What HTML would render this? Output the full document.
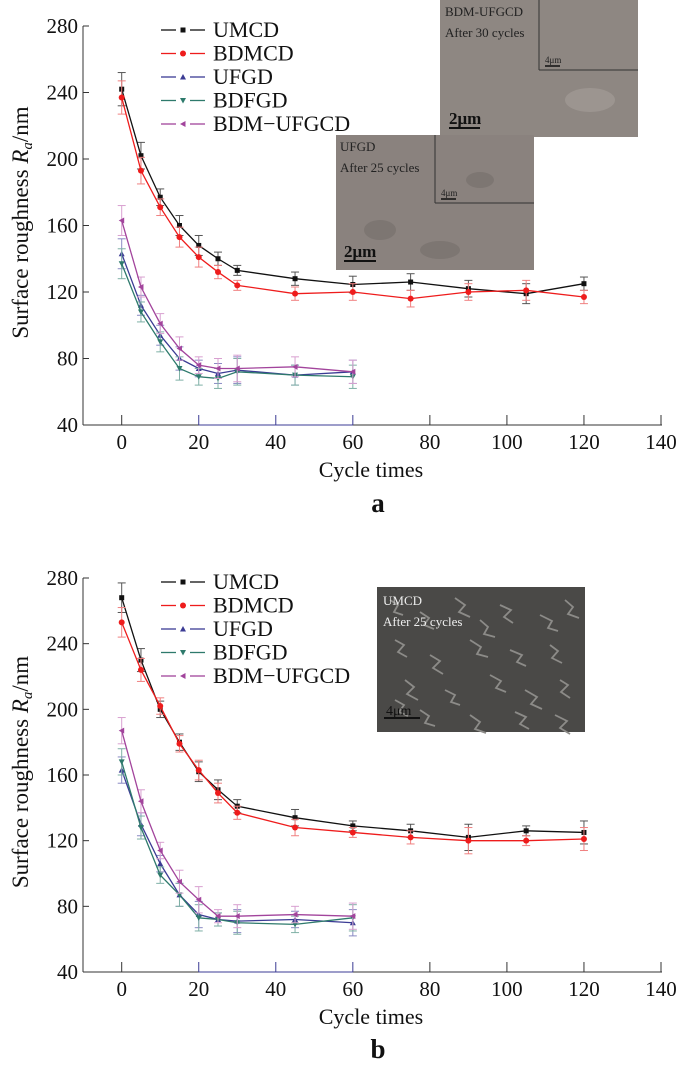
<!DOCTYPE html>
<html><head><meta charset="utf-8"><style>
html,body{margin:0;padding:0;background:#fff;}
svg{display:block;font-family:"Liberation Serif",serif;}
</style></head><body>
<svg id="fig" width="685" height="1069" viewBox="0 0 685 1069"></svg>
<script>
const xCats = [0,5,10,15,20,25,30,45,60,75,90,105,120];
const xTicks = [0,20,40,60,80,100,120,140];
const yTicks = [40,80,120,160,200,240,280];
const seriesNames = ["UMCD","BDMCD","UFGD","BDFGD","BDM\u2212UFGCD"];
// chart a
const aUMCD  = [242,202,177,160,148,140,133,128,124.5,126,122,119,125];
const aBDMCD = [237,193,171,153,141,132,124,119,120,116,120,121,117];
const aUFGD  = [143,112,94,80,74,71,73,70,72];
const aBDFGD = [137,108,90,74,69,68,72,70,69];
const aBDMU  = [163,123,101,86,76,74,74,75,72];
const aErr   = [10,8,5,6,6,4,3,4,5,5,5,6,4];
const aErrL  = [9,6,6,7,5,6,8,6,7];
// chart b
const bUMCD  = [268,230,200,180,162,151,141,134,129,126,122,126,125];
const bBDMCD = [253,224,202,179,163,149,137,128,125,122,120,120,121];
const bUFGD  = [163,130,106,87,75,72,71,72,70];
const bBDFGD = [168,128,99,87,73,72,70,69,73];
const bBDMU  = [187,144,114,95,84,74,74,75,74];
const bErr   = [9,7,5,5,6,6,4,5,3,4,8,3,7];
const bErrL  = [8,7,5,7,8,4,7,5,8];

const NS="http://www.w3.org/2000/svg";
const svg=document.getElementById('fig');
function mk(tag,attrs,parent){const e=document.createElementNS(NS,tag);for(const k in attrs)e.setAttribute(k,attrs[k]);(parent||svg).appendChild(e);return e;}
const colors=["#111","#ee1c1c","#3b3b94","#2e7a6c","#a2449c"];
const errColors=["#555","#f08080","#8a8ac4","#7fb0a6","#d8a0d0"];

function marker(g,type,x,y,c){
  let e;
  if(type===0){e=mk('rect',{x:x-2.5,y:y-2.5,width:5,height:5,fill:c},g);}
  else if(type===1){e=mk('circle',{cx:x,cy:y,r:3,fill:c},g);}
  else if(type===2){e=mk('polygon',{points:`${x},${y-3} ${x-3},${y+2.5} ${x+3},${y+2.5}`,fill:c},g);}
  else if(type===3){e=mk('polygon',{points:`${x},${y+3} ${x-3},${y-2.5} ${x+3},${y-2.5}`,fill:c},g);}
  else {e=mk('polygon',{points:`${x-3},${y} ${x+2.5},${y-3} ${x+2.5},${y+3}`,fill:c},g);}
  
  
}

function chart(prefix,top,bottom,data,errs,label,labelY,legendY){
  const g=mk('g',{});
  
  
  const x0=121.7, xPer=(661-121.7)/140;
  const xs=v=>x0+v*xPer;
  const ys=v=>bottom-(v-40)*(bottom-top)/240;
  let ax=mk('line',{x1:83,y1:top,x2:83,y2:bottom,stroke:'#333','stroke-width':1},g);
  
  let bx=mk('line',{x1:83,y1:bottom,x2:662,y2:bottom,stroke:'#333','stroke-width':1},g);
  
  mk('line',{x1:xs(20),y1:bottom,x2:xs(60),y2:bottom,stroke:'#3b3b94','stroke-width':1},g);
  yTicks.forEach(v=>{
    mk('line',{x1:83,y1:ys(v),x2:89,y2:ys(v),stroke:'#333'},g);
    const t=mk('text',{x:78,y:ys(v)+7,'text-anchor':'end','font-size':21,fill:'#111'},g);
    t.textContent=v;
    
  });
  xTicks.forEach(v=>{
    mk('line',{x1:xs(v),y1:bottom,x2:xs(v),y2:bottom-10,stroke:(v>=20&&v<=60)?'#3b3b94':'#333'},g);
    const t=mk('text',{x:xs(v),y:bottom+24,'text-anchor':'middle','font-size':21,fill:'#111'},g);
    t.textContent=v;
    
  });
  const yt=mk('text',{x:0,y:0,'text-anchor':'middle','font-size':23,fill:'#111',transform:`translate(28,${(top+bottom)/2-3}) rotate(-90)`},g);
  yt.innerHTML='Surface roughness <tspan font-style="italic">R</tspan><tspan font-style="italic" font-size="15" dy="4">a</tspan><tspan dy="-4">/nm</tspan>';
  
  const xt=mk('text',{x:371,y:bottom+52,'text-anchor':'middle','font-size':22,fill:'#111'},g);
  xt.textContent='Cycle times';
  
  const pl=mk('text',{x:378,y:labelY,'text-anchor':'middle','font-size':27,'font-weight':'bold',fill:'#111'},g);
  pl.textContent=label;
  
  data.forEach((arr,si)=>{
    const sg=mk('g',{},g);
    
    
    const er=si<2?errs[0]:errs[1];
    arr.forEach((v,i)=>{
      const x=xs(xCats[i]),e=er[i];
      mk('line',{x1:x,y1:ys(v-e),x2:x,y2:ys(v+e),stroke:errColors[si],'stroke-width':1},sg);
      mk('line',{x1:x-4,y1:ys(v-e),x2:x+4,y2:ys(v-e),stroke:errColors[si],'stroke-width':1},sg);
      mk('line',{x1:x-4,y1:ys(v+e),x2:x+4,y2:ys(v+e),stroke:errColors[si],'stroke-width':1},sg);
    });
    const pts=arr.map((v,i)=>xs(xCats[i])+','+ys(v)).join(' ');
    const p=mk('polyline',{points:pts,fill:'none',stroke:colors[si],'stroke-width':1.3},sg);
    
    arr.forEach((v,i)=>marker(sg,si,xs(xCats[i]),ys(v),colors[si]));
  });
  seriesNames.forEach((n,i)=>{
    const ly=legendY+i*23.5;
    const lg=mk('g',{},g);
    
    mk('line',{x1:161,y1:ly,x2:176,y2:ly,stroke:colors[i],'stroke-width':1.3},lg);
    mk('line',{x1:190,y1:ly,x2:205,y2:ly,stroke:colors[i],'stroke-width':1.3},lg);
    marker(lg,i,183,ly,colors[i]);
    const t=mk('text',{x:213,y:ly+7,'font-size':22,fill:'#111'},lg);
    t.textContent=n;
  });
}

function inset(x,y,w,h,fill,name){
  const g=mk('g',{});
  
  mk('rect',{x:x,y:y,width:w,height:h,fill:fill},g);
  return g;
}
chart('a',26,425,[aUMCD,aBDMCD,aUFGD,aBDFGD,aBDMU],[aErr,aErrL],'a',512,30);
let i1=inset(440,0,198,137,'#8e8782','sem-inset-bdm-ufgcd');
mk('line',{x1:539,y1:0,x2:539,y2:70,stroke:'#333'},i1);
mk('line',{x1:539,y1:70,x2:638,y2:70,stroke:'#333'},i1);
mk('ellipse',{cx:590,cy:100,rx:25,ry:12,fill:'#9c9590'},i1);
[['BDM-UFGCD',445,16,13],['After 30 cycles',445,37,13],['4\u03bcm',545,63,9]].forEach(a=>{const t=mk('text',{x:a[1],y:a[2],'font-size':a[3],fill:'#222'},i1);t.textContent=a[0];});
let t2=mk('text',{x:449,y:124,'font-size':17,'font-weight':'bold',fill:'#111'},i1);t2.textContent='2\u03bcm';
mk('line',{x1:449,y1:128,x2:480,y2:128,stroke:'#111','stroke-width':2},i1);
mk('line',{x1:545,y1:66,x2:560,y2:66,stroke:'#111','stroke-width':1.5},i1);

let i2=inset(336,135,198,135,'#8a827e','sem-inset-ufgd');
mk('line',{x1:435,y1:135,x2:435,y2:203,stroke:'#333'},i2);
mk('line',{x1:435,y1:203,x2:534,y2:203,stroke:'#333'},i2);
[[380,230,16,10],[440,250,20,9],[480,180,14,8]].forEach(c=>mk('ellipse',{cx:c[0],cy:c[1],rx:c[2],ry:c[3],fill:'#7d7672'},i2));
[['UFGD',340,151,13],['After 25 cycles',340,172,13],['4\u03bcm',441,196,9]].forEach(a=>{const t=mk('text',{x:a[1],y:a[2],'font-size':a[3],fill:'#222'},i2);t.textContent=a[0];});
let t3=mk('text',{x:344,y:257,'font-size':17,'font-weight':'bold',fill:'#111'},i2);t3.textContent='2\u03bcm';
mk('line',{x1:344,y1:261,x2:376,y2:261,stroke:'#111','stroke-width':2},i2);
mk('line',{x1:441,y1:199,x2:456,y2:199,stroke:'#111','stroke-width':1.5},i2);

chart('b',578,972,[bUMCD,bBDMCD,bUFGD,bBDFGD,bBDMU],[bErr,bErrL],'b',1058,582);
let i3=inset(377,587,208,145,'#4a4947','sem-inset-umcd');
const tex=[[390,600],[420,612],[455,598],[500,605],[540,615],[565,600],[395,640],[430,655],[470,640],[510,650],[550,645],[405,680],[445,690],[490,675],[525,690],[560,680],[420,710],[470,715],[515,712],[555,715],[480,620],[395,700]];
tex.forEach((p,k)=>{
  mk('path',{d:`M${p[0]} ${p[1]} l${8+k%5} ${5+k%3} l-${4+k%4} 7 l${9+k%3} ${3+k%4}`,stroke:'#8c8b88','stroke-width':1.8,fill:'none'},i3);
});
[['UMCD',383,605,13],['After 25 cycles',383,626,13]].forEach(a=>{const t=mk('text',{x:a[1],y:a[2],'font-size':a[3],fill:'#eee'},i3);t.textContent=a[0];});
let t4=mk('text',{x:386,y:715,'font-size':14,fill:'#111'},i3);t4.textContent='4\u03bcm';
mk('line',{x1:384,y1:718,x2:420,y2:718,stroke:'#111','stroke-width':2},i3);
</script>
</body></html>
